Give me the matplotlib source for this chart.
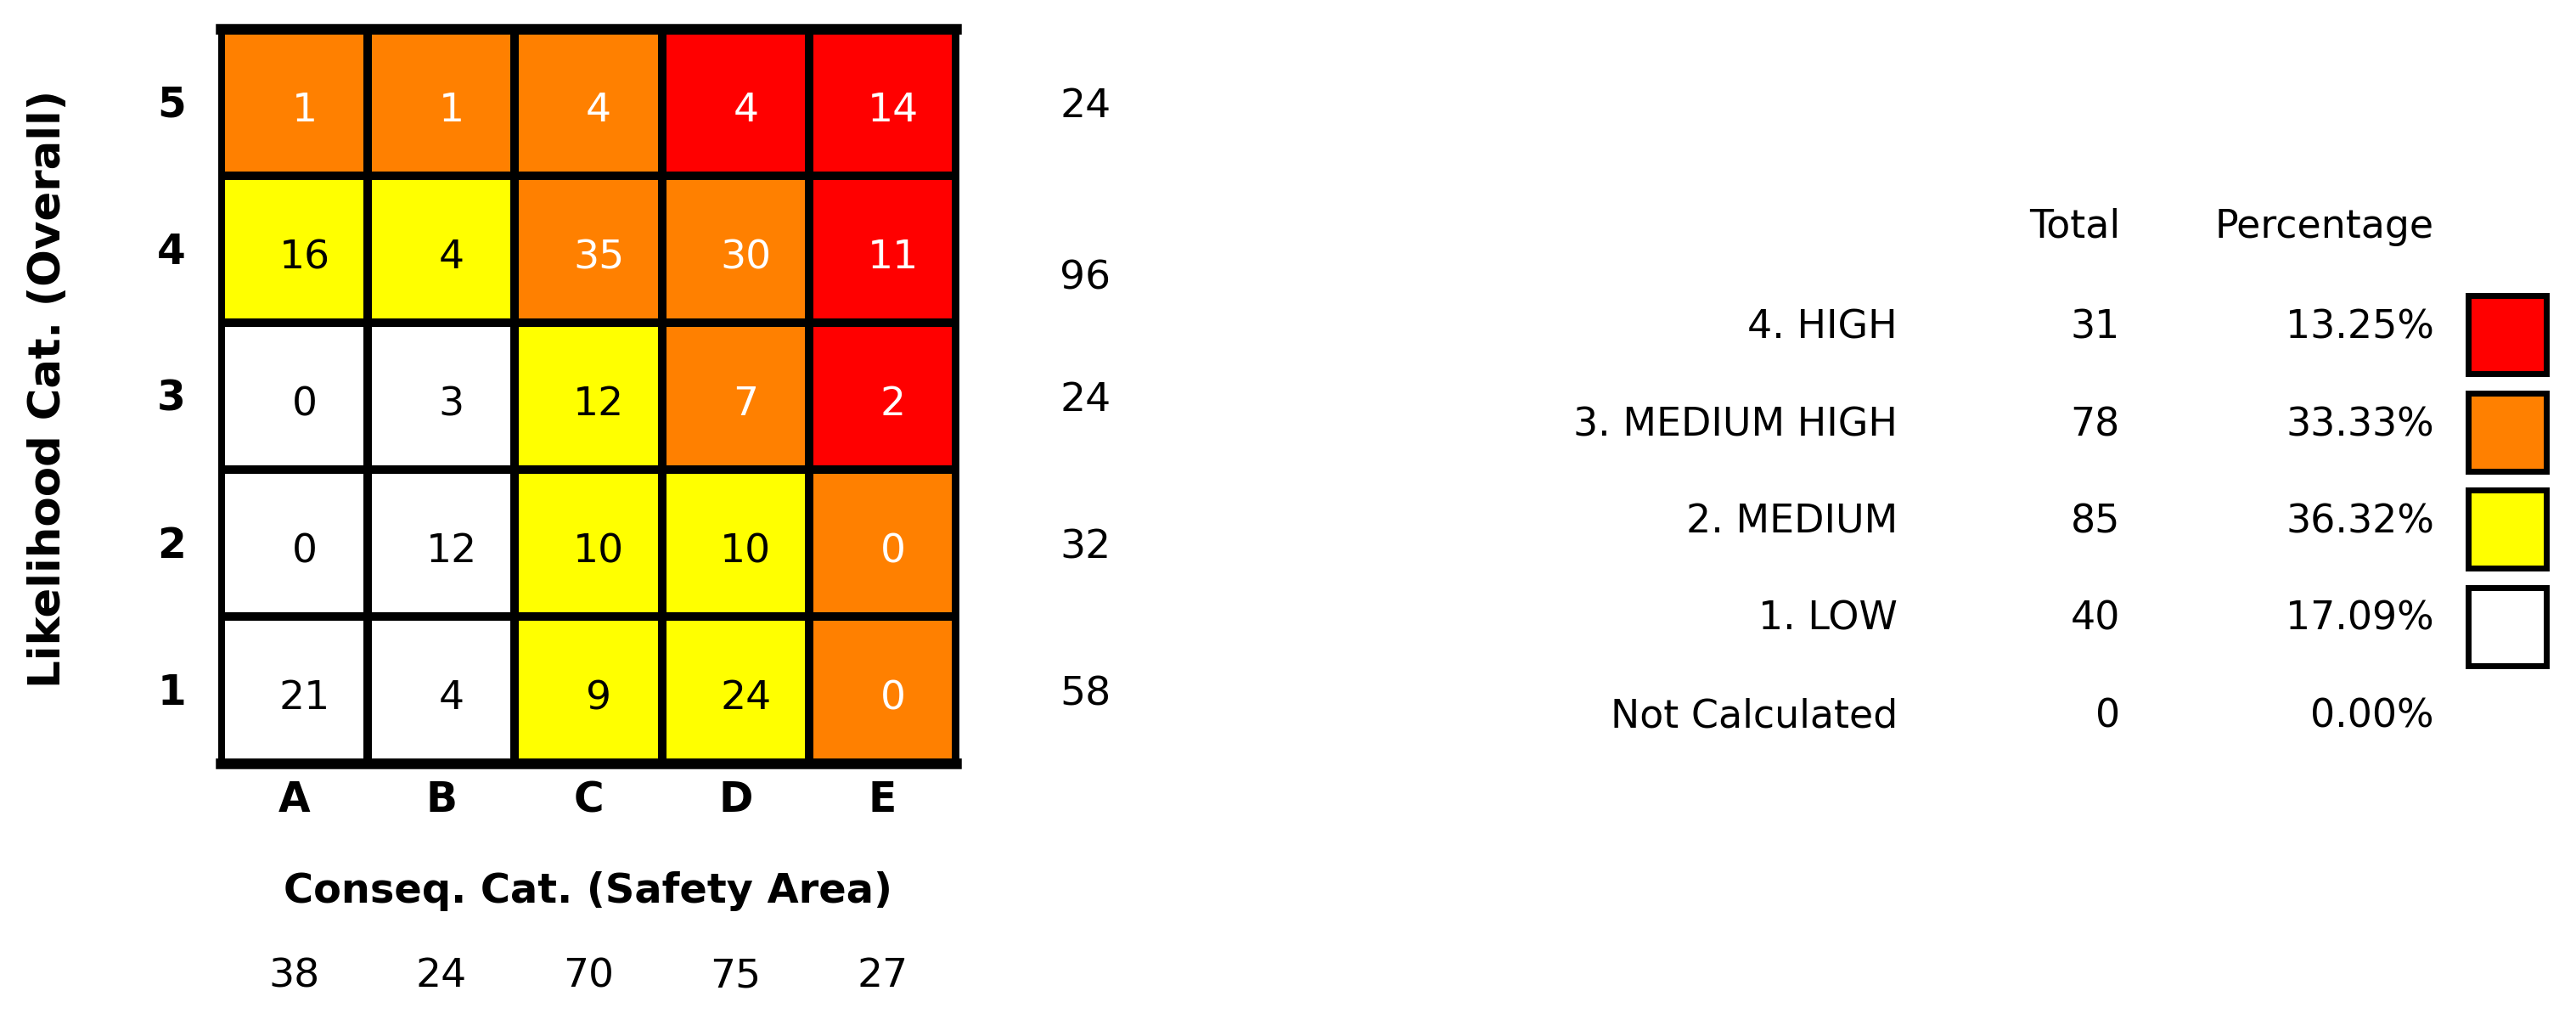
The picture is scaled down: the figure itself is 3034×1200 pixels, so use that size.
import numpy as np
import matplotlib
matplotlib.use("Agg")
import matplotlib.pyplot as plt
from matplotlib.colors import ListedColormap
from matplotlib.patches import Rectangle

plt.rcParams['font.family'] = ['DejaVu Sans']

# data
cols = ["A", "B", "C", "D", "E"]
rows = ["1", "2", "3", "4", "5"]  # bottom to top
counts = [
    [21, 4, 9, 24, 0],
    [0, 12, 10, 10, 0],
    [0, 3, 12, 7, 2],
    [16, 4, 35, 30, 11],
    [1, 1, 4, 4, 14],
]
risk = [
    [1, 1, 2, 2, 3],
    [1, 1, 2, 2, 3],
    [1, 1, 2, 3, 4],
    [2, 2, 3, 3, 4],
    [3, 3, 3, 4, 4],
]
row_totals = [58, 32, 24, 96, 24]
col_totals = [38, 24, 70, 75, 27]

levels = ["4. HIGH", "3. MEDIUM HIGH", "2. MEDIUM", "1. LOW", "Not Calculated"]
level_totals = [31, 78, 85, 40, 0]
level_pct = ["13.25%", "33.33%", "36.32%", "17.09%", "0.00%"]
level_colors = ["#FF0000", "#FF8000", "#FFFF00", "#FFFFFF", None]

risk_colors = ["#FFFFFF", "#FFFF00", "#FF8000", "#FF0000"]
W, H = 3034, 1200

fig = plt.figure(figsize=(W / 100, H / 100), dpi=100)

# risk matrix
ax = fig.add_axes([260 / W, (H - 899) / H, 866 / W, 865 / H])
cmap = ListedColormap(risk_colors)
ax.pcolormesh(np.array(risk), cmap=cmap, vmin=0.5, vmax=4.5,
              edgecolors="black", linewidth=6)
ax.set_xlim(0, 5)
ax.set_ylim(0, 5)
for side in ["left", "right"]:
    ax.spines[side].set_linewidth(5)
for side in ["top", "bottom"]:
    ax.spines[side].set_linewidth(9)
ax.set_xticks([])
ax.set_yticks([])

for i in range(5):
    for j in range(5):
        tc = "white" if risk[i][j] >= 3 else "black"
        ax.text(j + 0.57, i + 0.44, str(counts[i][j]), ha="center", va="center",
                fontsize=34, color=tc)

# row labels / totals
for i in range(5):
    ax.text(-0.335, i + 0.48, rows[i], ha="center", va="center", fontsize=35,
            fontweight="bold", clip_on=False)
    off = -0.2 if row_totals[i] == 96 else -0.03
    ax.text(5.88, i + 0.5 + off, str(row_totals[i]), ha="center", va="center",
            fontsize=34, clip_on=False)

# column labels / totals
for j in range(5):
    ax.text(j + 0.5, -0.25, cols[j], ha="center", va="center", fontsize=35,
            fontweight="bold", clip_on=False)
    ax.text(j + 0.5, -1.45, str(col_totals[j]), ha="center", va="center",
            fontsize=34, clip_on=False)

ax.text(2.5, -0.87, "Conseq. Cat. (Safety Area)", ha="center", va="center",
        fontsize=34.5, fontweight="bold", clip_on=False)
ax.text(-1.17, 2.55, "Likelihood Cat. (Overall)", ha="center", va="center",
        rotation=90, fontsize=37, fontweight="bold", clip_on=False)

# summary table
tx = fig.add_axes([0, 0, 1, 1])
tx.set_xlim(0, W)
tx.set_ylim(H, 0)
tx.axis("off")
tx.patch.set_alpha(0)

y0, step = 386, 114.5
tx.text(2497, 267, "Total", ha="right", va="center", fontsize=33)
tx.text(2867, 267, "Percentage", ha="right", va="center", fontsize=33)
for k, name in enumerate(levels):
    y = y0 + k * step
    tx.text(2235, y, name, ha="right", va="center", fontsize=33)
    tx.text(2497, y, str(level_totals[k]), ha="right", va="center", fontsize=33)
    tx.text(2867, y, level_pct[k], ha="right", va="center", fontsize=33)
    if level_colors[k] is not None:
        tx.add_patch(Rectangle((2907, y + 8 - 46), 92, 92, facecolor=level_colors[k],
                               edgecolor="black", linewidth=5))

fig.savefig("out.png", dpi=100)
